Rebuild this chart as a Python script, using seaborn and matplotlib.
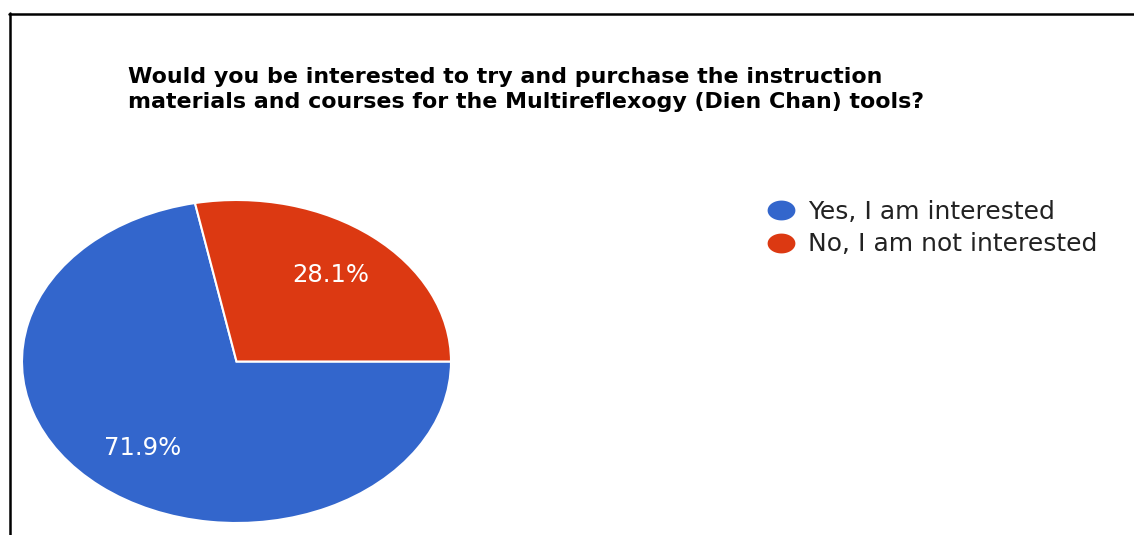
import numpy as np
import matplotlib
matplotlib.use("Agg")
import matplotlib.pyplot as plt
from matplotlib.lines import Line2D
from matplotlib.path import Path
import seaborn as sns

# Survey question and answers
title_lines = [
    "Would you be interested to try and purchase the instruction",
    "materials and courses for the Multireflexogy (Dien Chan) tools?",
]
answers = ["Yes, I am interested", "No, I am not interested"]
shares = [71.9, 28.1]
colors = ["#3366CC", "#DC3912"]

sns.set_theme(style="white")
plt.rcParams["font.family"] = ["DejaVu Sans"]

W, H = 1134, 535
fig = plt.figure(figsize=(W / 100, H / 100), dpi=100)
fig.patch.set_facecolor("white")


def px_box(x0, y0, x1, y1):
    return [x0 / W, 1 - y1 / H, (x1 - x0) / W, (y1 - y0) / H]


# Pie (slightly widened, as in the exported chart)
ax = fig.add_axes(px_box(22, 200, 451, 523))
wedges, texts, autotexts = ax.pie(
    shares,
    colors=sns.color_palette(colors),
    startangle=0,
    counterclock=False,
    autopct="%1.1f%%",
    pctdistance=0.69,
    radius=1,
    wedgeprops=dict(edgecolor="white", linewidth=1.5),
    textprops=dict(color="white", fontsize=17.5),
)
ax.set_aspect("auto")
ax.set_xlim(-1, 1)
ax.set_ylim(-1, 1)
ax.axis("off")

# Title
fig.text(128 / W, 1 - 67 / H, "\n".join(title_lines), ha="left", va="top",
         fontsize=15.9, fontweight="bold", color="black", linespacing=1.3)

# Legend with oval swatches
t = np.linspace(0, 2 * np.pi, 80)
oval = Path(np.column_stack([1.4 * np.cos(t), np.sin(t)]), closed=True)
handles = [Line2D([], [], ls="", marker=oval, markersize=20, color=c,
                  markeredgewidth=0) for c in colors]
fig.legend(handles, answers, loc="upper left",
           bbox_to_anchor=(766 / W, 1 - 200 / H), frameon=False,
           fontsize=18, labelcolor="#222222", handlelength=1.2,
           handletextpad=0.48, labelspacing=0.33, borderaxespad=0,
           borderpad=0)

# Outer frame lines (left and top)
fig.add_artist(Line2D([9.5 / W, 9.5 / W], [0, 1 - 13 / H],
                      transform=fig.transFigure, color="black", lw=1.8))
fig.add_artist(Line2D([9 / W, 1], [1 - 13.5 / H, 1 - 13.5 / H],
                      transform=fig.transFigure, color="black", lw=1.8))

fig.savefig("out.png", dpi=100, facecolor="white")
